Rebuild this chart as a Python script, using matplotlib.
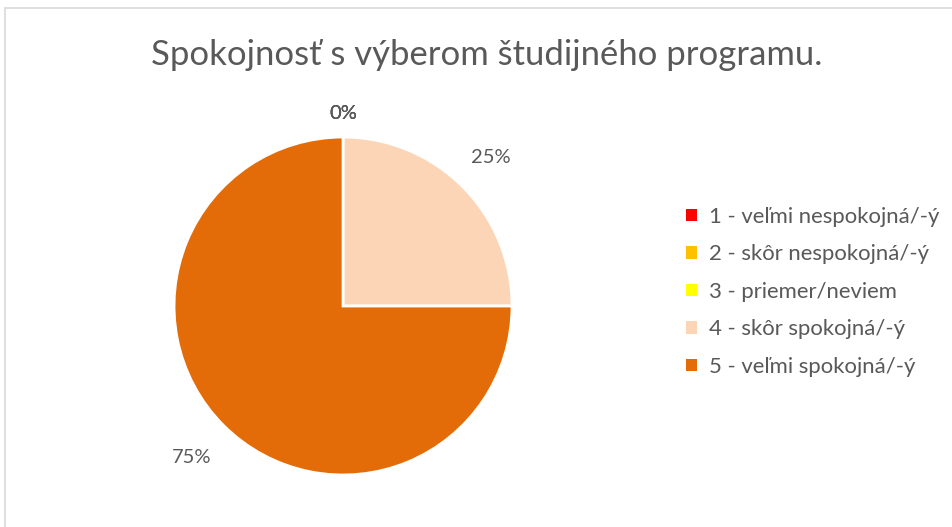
import numpy as np
import matplotlib.pyplot as plt
from matplotlib.patches import Patch, Rectangle

plt.rcParams['font.family'] = ['Lato', 'DejaVu Sans']

title = "Spokojnosť s výberom študijného programu."
categories = ["1 - veľmi nespokojná/-ý", "2 - skôr nespokojná/-ý", "3 - priemer/neviem",
              "4 - skôr spokojná/-ý", "5 - veľmi spokojná/-ý"]
shares = [0, 0, 0, 25, 75]
colors = ["#FF0000", "#FFC000", "#FFFF00", "#FBD5B5", "#E36C09"]
label_dist = [1.14, 1.14, 1.14, 1.24, 1.27]
text_color = "#595959"

fig = plt.figure(figsize=(9.53, 5.27), dpi=100)
fig.patch.set_facecolor("white")

# thin grey frame (top and left visible, the rest runs off the picture)
fig.add_artist(Rectangle((5 / 953, -0.1), 1.2, 1 - 8 / 527 + 0.1, transform=fig.transFigure,
                         fill=False, edgecolor="#D9D9D9", linewidth=1.2))

ax = fig.add_axes([0.1383, 0.0185, 0.4433, 0.8017])
wedges, texts, autotexts = ax.pie(
    shares, colors=colors, startangle=90, counterclock=False,
    autopct=lambda p: f"{p:.0f}%", pctdistance=1.2,
    wedgeprops=dict(edgecolor="white", linewidth=2),
    textprops=dict(color=text_color, fontsize=14.5))

# push each percentage label out along its wedge's middle angle
for w, t, d in zip(wedges, autotexts, label_dist):
    ang = np.deg2rad((w.theta1 + w.theta2) / 2)
    t.set_position((d * np.cos(ang), d * np.sin(ang)))

fig.text(0.511, 0.895, title, ha="center", va="center", fontsize=24.9, color=text_color)

handles = [Patch(facecolor=c, edgecolor="none") for c in colors]
fig.legend(handles, categories, loc="upper left", bbox_to_anchor=(0.699, 0.645),
           frameon=False, fontsize=15.9, labelcolor=text_color,
           handlelength=0.5, handleheight=0.5, handletextpad=0.55, labelspacing=0.79)

fig.savefig("out.png", dpi=100)
